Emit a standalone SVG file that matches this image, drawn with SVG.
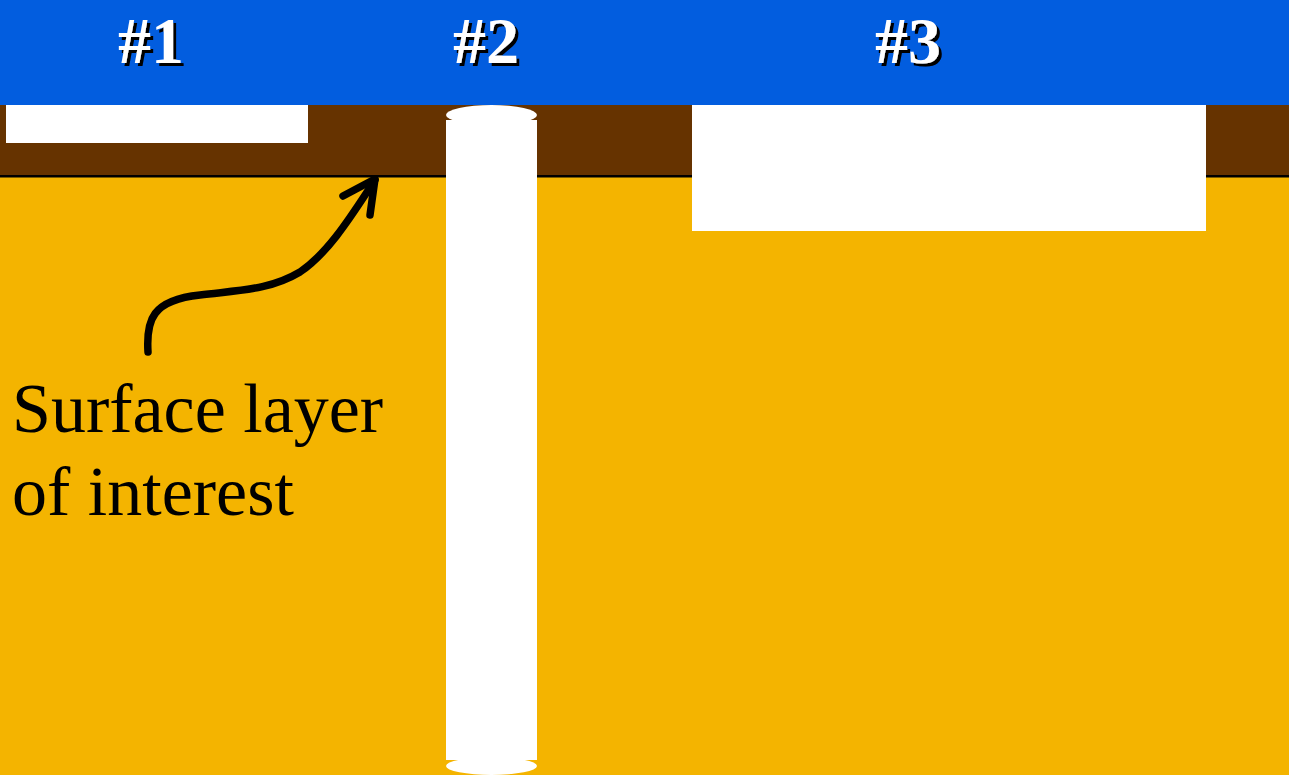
<svg xmlns="http://www.w3.org/2000/svg" width="1289" height="775" viewBox="0 0 1289 775">
<style>
.hdr{font-family:"Liberation Serif","Times New Roman",serif;font-weight:bold;font-size:66px;text-anchor:middle;fill:#fff;filter:url(#shadow)}
.lbl{font-family:"Liberation Serif","Times New Roman",serif;font-size:70px;fill:#000}
.hole{fill:#fff}
</style>
<defs>
<filter id="shadow" x="-20%" y="-20%" width="150%" height="150%">
<feOffset in="SourceAlpha" dx="3" dy="3" result="off"/>
<feMerge><feMergeNode in="off"/><feMergeNode in="SourceGraphic"/></feMerge>
</filter>
</defs>
<g id="ground">
<rect x="0" y="0" width="1289" height="775" fill="#F4B400"/>
<rect x="0" y="105" width="1289" height="71" fill="#663300"/>
<rect x="0" y="175" width="1289" height="2.5" fill="#000"/>
<rect x="0" y="0" width="1289" height="105" fill="#025DDF"/>
</g>
<g id="hole1">
<rect class="hole" x="6" y="105" width="302" height="38"/>
</g>
<g id="hole2">
<rect class="hole" x="446" y="120" width="91" height="640"/>
<ellipse class="hole" cx="491.5" cy="115" rx="45.5" ry="10"/>
<ellipse class="hole" cx="491.5" cy="766" rx="45.5" ry="9"/>
</g>
<g id="hole3">
<rect class="hole" x="692" y="105" width="514" height="126"/>
</g>
<g id="headers">
<text class="hdr" x="151" y="63">#1</text>
<text class="hdr" x="486" y="63">#2</text>
<text class="hdr" x="908" y="63">#3</text>
</g>
<g id="connectors" fill="none" stroke="#000" stroke-width="7.5" stroke-linecap="round" stroke-linejoin="round">
<path d="M148,352 C146,320 152,300 200,295 C240,290 270,290 300,272 C330,252 355,210 375,180"/>
<path d="M343,196 L375,179 L370,215"/>
</g>
<g id="label">
<text class="lbl" x="12" y="432">Surface layer</text>
<text class="lbl" x="12" y="515">of interest</text>
</g>
</svg>
